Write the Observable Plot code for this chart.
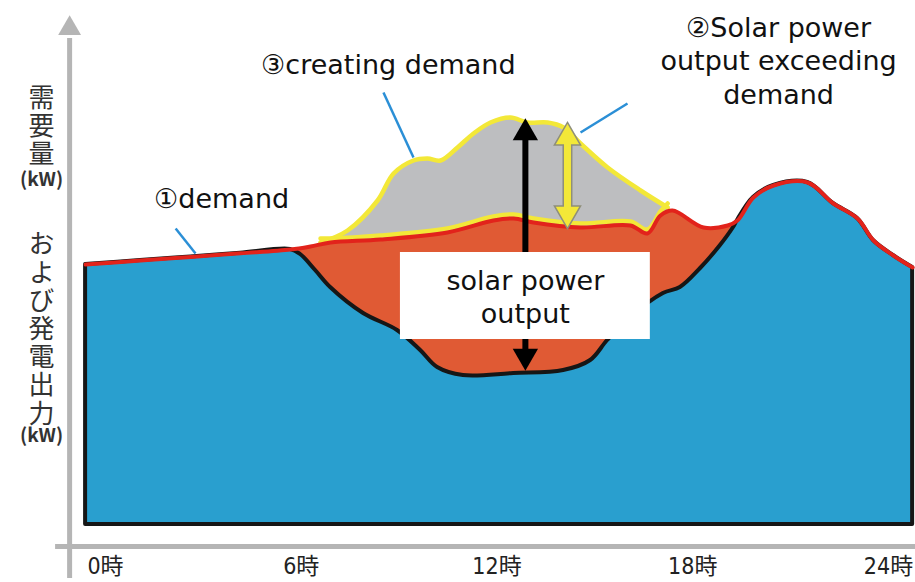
<!DOCTYPE html>
<html><head><meta charset="utf-8">
<script src="https://cdn.jsdelivr.net/npm/d3@7"></script>
<script src="https://cdn.jsdelivr.net/npm/@observablehq/plot@0.6"></script>
<style>body{margin:0;background:#fff} svg{display:block}</style>
</head><body><div id="chart"></div>
<script>
// ---- data (hours of day, schematic power units) ----
const demandHours  = [-0.61, 1.07, 2.61, 4.14, 5.67, 6.28, 6.90, 8.43, 10.48, 11.89, 12.51, 13.12, 14.56, 16.09, 16.61, 17.01, 17.38, 18.33, 19.07, 19.37, 19.86, 20.48, 21.52, 22.31, 23.05, 23.54, 24.15, 24.74];
const demandValues = [65, 66, 66.9, 67.8, 68.75, 69.5, 70.5, 71.25, 73, 76, 76.5, 75.5, 74.25, 74.75, 72.75, 77.25, 78.5, 74.25, 74.75, 76, 81.75, 84.75, 85.5, 80.25, 76.5, 71, 67.25, 64.25];

const netHours  = [5.67, 5.98, 6.44, 6.90, 7.91, 8.95, 9.66, 10.18, 10.97, 12.51, 14.04, 14.87, 15.39, 16.09, 17.10, 17.62, 18.24, 18.85, 19.25];
const netValues = [68.75, 67.5, 63.5, 59.25, 52.75, 48.5, 43.5, 39.25, 37.25, 37.75, 38.5, 41, 46, 51.75, 57.75, 59.25, 64, 69.75, 74.25];

const solarHours  = [6.59, 7.42, 8.34, 8.83, 9.44, 9.87, 10.27, 10.79, 11.28, 11.80, 12.41, 12.93, 13.55, 14.04, 14.56, 15.39, 16.40, 17.23];
const solarValues = [70.5, 73.5, 81, 87.75, 91, 91.5, 91, 94.25, 97.75, 100.5, 101.75, 100.5, 100.5, 99.25, 95.25, 89.25, 83.5, 79.25];

const tickHours  = [0, 6, 12, 18, 24];
const tickLabels = ["0時", "6時", "12時", "18時", "24時"];

const yTitleTexts  = ["需要量", "(kW)", "および発電出力", "(kW)"];
const yTitleValues = [101.6, 86.25, 50.9, 22.25];

const labelTexts  = ["①demand", "③creating demand", "②Solar power\noutput exceeding\ndemand"];
const labelHours  = [3.56, 8.67, 20.63];
const labelValues = [81.75, 115.25, 116.25];

const leaderFrom = [[2.15, 74], [8.52, 108], [16.0, 105.25]];
const leaderTo   = [[2.76, 67.75], [9.44, 91.75], [14.56, 98]];

const boxText = "solar power\noutput";
const boxHours = [9.04, 16.70];
const boxValues = [46.25, 68];

const blackArrow  = {h: 12.87, top: 97.9, bottom: 42.1};
const yellowArrow = {h: 14.16, top: 96.75, bottom: 77.75};

// ---- build tables ----
const demand = demandHours.map((h, i) => ({h, v: demandValues[i]}));
const net = netHours.map((h, i) => ({h, v: netValues[i]}));
const solar = solarHours.map((h, i) => ({h, v: solarValues[i]}));
const netStart = netHours[0], netEnd = netHours[netHours.length - 1];
const blueTop = [...demand.filter(d => d.h < netStart), ...net, ...demand.filter(d => d.h > netEnd)];
const orangeTop = demand.filter(d => d.h >= netStart && d.h <= 19.4);
const sStart = solarHours[0], sEnd = solarHours[solarHours.length - 1];
const yellowBottom = [solar[0], ...demand.filter(d => d.h > sStart && d.h < sEnd), solar[solar.length - 1]];
const ticks = tickHours.map((h, i) => ({h, label: tickLabels[i]}));
const labels = labelTexts.map((t, i) => ({t, h: labelHours[i], v: labelValues[i]}));
const leaders = leaderFrom.map((f, i) => ({x1: f[0], y1: f[1], x2: leaderTo[i][0], y2: leaderTo[i][1]}));
const yTitleVertical = [0, 2].map(i => ({t: yTitleTexts[i], v: yTitleValues[i]}));
const yTitleUnits = [1, 3].map(i => ({t: yTitleTexts[i], v: yTitleValues[i]}));

const triDown = {draw(ctx, size) {
  const y = -Math.sqrt(size / (3 * Math.sqrt(3)));
  ctx.moveTo(0, -2 * y); ctx.lineTo(-Math.sqrt(3) * y, y); ctx.lineTo(Math.sqrt(3) * y, y); ctx.closePath();
}};

const C = {blue: "#299fcf", orange: "#e05a34", gray: "#bdbec0", yellow: "#f3e838", red: "#e2231b", black: "#161616", axis: "#b5b5b5", leader: "#2b8fd6"};
const curve = "catmull-rom";
const latin = "'DejaVu Sans', Verdana, sans-serif";
const jp = "'Noto Sans CJK JP', sans-serif";

const chart = Plot.plot({
  width: 915, height: 582,
  marginLeft: 105, marginRight: 27, marginTop: 124, marginBottom: 58,
  x: {domain: [0, 24], axis: null},
  y: {domain: [0, 100], axis: null},
  marks: [
    // axes
    Plot.ruleY([-5.5], {x1: -1.53, x2: 24.85, stroke: C.axis, strokeWidth: 5}),
    Plot.ruleX([-1.10], {y1: -13.5, y2: 121.5, stroke: C.axis, strokeWidth: 5}),
    Plot.dot([{h: -1.10, v: 124}], {x: "h", y: "v", symbol: "triangle", r: 8.5, fill: C.axis, stroke: "none"}),
    Plot.text(ticks, {x: "h", y: () => -10.5, text: "label", fontSize: 23, fill: "#222", fontFamily: "'DejaVu Sans Condensed', 'Noto Sans CJK JP', sans-serif"}),
    // y title
    Plot.text(yTitleVertical, {x: () => -1.96, y: "v", text: "t", fontSize: 26, fill: "#333", fontFamily: jp, className: "vtitle"}),
    Plot.text(yTitleUnits, {x: () => -1.96, y: "v", text: "t", fontSize: 19, fontWeight: "bold", fill: "#333", fontFamily: jp}),
    // areas
    Plot.areaY(solar, {x: "h", y: "v", fill: C.gray, curve}),
    Plot.areaY(orangeTop, {x: "h", y: "v", fill: C.orange, curve}),
    Plot.areaY(blueTop, {x: "h", y: "v", fill: C.blue, stroke: C.black, strokeWidth: 4, strokeLinejoin: "round", curve}),
    // outlines
    Plot.line(solar, {x: "h", y: "v", stroke: C.yellow, strokeWidth: 4.5, strokeLinejoin: "round", strokeLinecap: "round", curve}),
    Plot.line(yellowBottom, {x: "h", y: "v", dy: -4, stroke: C.yellow, strokeWidth: 4.5, strokeLinejoin: "round", strokeLinecap: "round", curve}),
    Plot.line(demand, {x: "h", y: "v", stroke: C.red, strokeWidth: 4, strokeLinejoin: "round", curve}),
    // black double arrow
    Plot.ruleX([blackArrow], {x: "h", y1: d => d.bottom + 1, y2: d => d.top - 1, stroke: "#000", strokeWidth: 6}),
    Plot.dot([blackArrow], {x: "h", y: "top", symbol: "triangle", r: 9.4, fill: "#000", stroke: "none"}),
    Plot.dot([blackArrow], {x: "h", y: "bottom", symbol: triDown, r: 9.4, fill: "#000", stroke: "none"}),
    // white box with label
    Plot.rect([0], {x1: () => boxHours[0], x2: () => boxHours[1], y1: () => boxValues[0], y2: () => boxValues[1], fill: "white"}),
    Plot.text([boxText], {x: () => (boxHours[0] + boxHours[1]) / 2, y: () => (boxValues[0] + boxValues[1]) / 2, text: d => d, fontSize: 27, lineHeight: 1.22, fill: "#111", fontFamily: latin}),
    // yellow double arrow
    Plot.ruleX([yellowArrow], {x: "h", y1: "bottom", y2: "top", stroke: "#8f8f7a", strokeWidth: 10}),
    Plot.dot([yellowArrow], {x: "h", y: "top", symbol: "triangle", r: 9.7, fill: C.yellow, stroke: "#8f8f7a", strokeWidth: 1.5}),
    Plot.dot([yellowArrow], {x: "h", y: "bottom", symbol: triDown, r: 9.7, fill: C.yellow, stroke: "#8f8f7a", strokeWidth: 1.5}),
    Plot.ruleX([yellowArrow], {x: "h", y1: d => d.bottom + 1.5, y2: d => d.top - 1.5, stroke: C.yellow, strokeWidth: 7}),
    // leader lines
    Plot.link(leaders, {x1: "x1", y1: "y1", x2: "x2", y2: "y2", stroke: C.leader, strokeWidth: 2.5}),
    // labels
    Plot.text(labels, {x: "h", y: "v", text: "t", fontSize: 27, lineHeight: 1.24, fill: "#111", fontFamily: latin})
  ]
});
// vertical Japanese axis title
chart.querySelectorAll(".vtitle text").forEach(t => {
  t.setAttribute("writing-mode", "vertical-rl");
  t.style.textOrientation = "upright";
  t.setAttribute("letter-spacing", "2.2");
  t.removeAttribute("dy");
});
document.getElementById("chart").append(chart);
</script>
</body></html>
